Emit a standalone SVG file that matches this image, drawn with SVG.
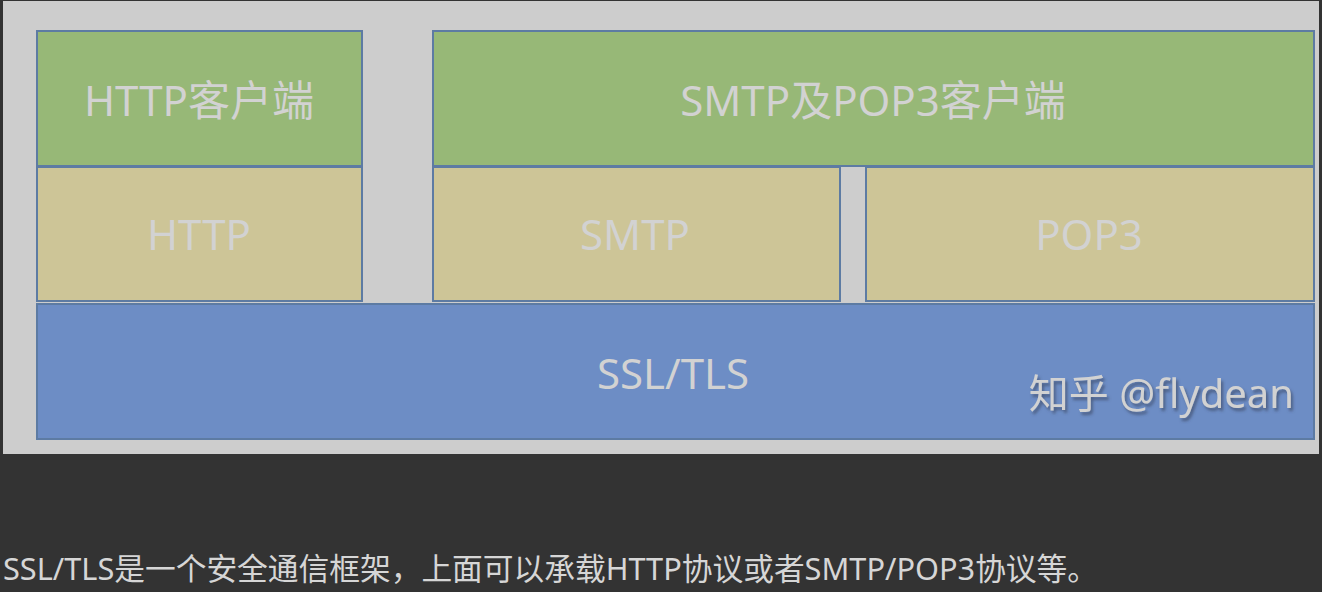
<svg xmlns="http://www.w3.org/2000/svg" width="1322" height="592" viewBox="0 0 1322 592">
<defs>
<style>
.box{stroke:#5d7ba3;stroke-width:2}
.g{fill:#97b877}
.t{fill:#cdc597}
.b{fill:#6d8dc5}
.lbl{font-family:"Noto Sans","Noto Sans CJK SC",sans-serif;font-size:42px;fill:#d2d2d2;text-anchor:middle}
</style>
<filter id="sh" x="-10%" y="-30%" width="120%" height="160%">
<feDropShadow dx="2" dy="3" stdDeviation="1.5" flood-color="#3a4a66" flood-opacity="0.7"/>
</filter>
</defs>
<rect x="0" y="0" width="1322" height="592" fill="#333333"/>
<rect x="3" y="1" width="1316" height="453" fill="#cdcdcd"/>
<g id="http-client">
<rect class="box g" x="37" y="31" width="325" height="135"/>
<text class="lbl" x="199" y="116">HTTP客户端</text>
</g>
<g id="mail-client">
<rect class="box g" x="433" y="31" width="881" height="135"/>
<text class="lbl" x="873" y="116">SMTP及POP3客户端</text>
</g>
<g id="http">
<rect class="box t" x="37" y="167" width="325" height="134"/>
<text class="lbl" x="199" y="250">HTTP</text>
</g>
<g id="smtp">
<rect class="box t" x="433" y="167" width="407" height="134"/>
<text class="lbl" x="635" y="250">SMTP</text>
</g>
<g id="pop3">
<rect class="box t" x="866" y="167" width="448" height="134"/>
<text class="lbl" x="1089" y="250">POP3</text>
</g>
<g id="ssl">
<rect class="box b" x="37" y="304" width="1277" height="135"/>
<text class="lbl" x="673" y="389">SSL/TLS</text>
<text x="1294" y="408" filter="url(#sh)" style="font-family:'Noto Sans','Noto Sans CJK SC',sans-serif;font-size:40px;fill:#d2d2d2;text-anchor:end">知乎 @flydean</text>
</g>
<g id="connectors"></g>
<text x="3" y="580" textLength="1095" lengthAdjust="spacingAndGlyphs" style="font-family:'Noto Sans','Noto Sans CJK SC',sans-serif;font-size:31px;fill:#d6d6d6">SSL/TLS是一个安全通信框架，上面可以承载HTTP协议或者SMTP/POP3协议等。</text>
</svg>
